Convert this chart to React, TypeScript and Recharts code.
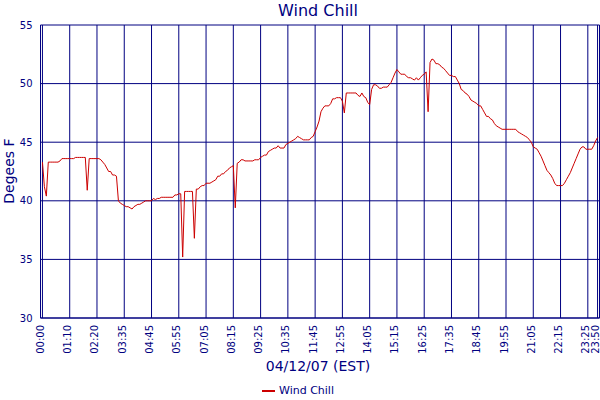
import React from 'react';
import { LineChart, Line, XAxis, YAxis, CartesianGrid, ReferenceLine, Legend } from 'recharts';

const NAVY = '#000080';
const RED = '#cc0000';
const FONT = '"DejaVu Sans", Verdana, sans-serif';

const tickLabels = ['00:00','01:10','02:20','03:35','04:45','05:55','07:05','08:15','09:25','10:35','11:45','12:55','14:05','15:15','16:25','17:35','18:45','19:55','21:05','22:15','23:25','23:50'];
const tickIndex = [0,14,28,42,56,70,84,98,112,126,140,154,168,182,196,210,224,238,252,266,280,285];
const yTicks = [30,35,40,45,50,55];

const windChill = [
  43.3,41.2,40.4,43.3,43.3,43.3,43.3,43.3,43.3,43.4,
  43.6,43.6,43.6,43.6,43.6,43.6,43.6,43.7,43.7,43.7,
  43.7,43.7,43.7,40.9,43.6,43.6,43.6,43.6,43.6,43.6,
  43.5,43.3,43.1,42.8,42.5,42.5,42.2,42.2,42.1,40.0,
  39.8,39.7,39.6,39.5,39.5,39.4,39.3,39.5,39.6,39.7,
  39.7,39.8,39.9,40.0,40.0,40.0,40.0,40.2,40.1,40.2,
  40.2,40.3,40.3,40.3,40.3,40.3,40.3,40.3,40.5,40.5,
  40.6,40.6,35.2,40.8,40.8,40.8,40.8,40.8,36.8,41.0,
  41.0,41.2,41.3,41.3,41.5,41.5,41.5,41.6,41.7,41.8,
  42.1,42.1,42.3,42.3,42.5,42.6,42.8,42.9,43.0,39.4,
  43.2,43.3,43.5,43.5,43.4,43.4,43.4,43.4,43.4,43.5,
  43.5,43.5,43.7,43.8,43.9,43.9,44.2,44.3,44.4,44.5,
  44.5,44.7,44.5,44.5,44.5,44.8,44.9,45.0,45.1,45.2,
  45.3,45.5,45.4,45.3,45.2,45.2,45.2,45.2,45.4,45.5,
  45.9,46.3,46.8,47.6,47.9,48.1,48.1,48.1,48.3,48.7,
  48.7,48.8,48.8,48.8,48.5,47.5,49.2,49.2,49.2,49.2,
  49.2,49.2,49.0,48.9,49.2,48.9,48.8,48.4,48.2,49.5,
  49.9,49.9,49.8,49.6,49.6,49.7,49.7,49.7,49.9,50.1,
  50.5,50.9,51.2,51.0,50.8,50.8,50.8,50.6,50.5,50.5,
  50.4,50.3,50.5,50.3,50.5,50.7,50.8,51.0,47.6,51.8,
  52.1,52.0,51.7,51.7,51.6,51.4,51.3,51.1,50.9,50.7,
  50.7,50.6,50.6,50.3,50.0,49.5,49.4,49.2,49.1,48.9,
  48.6,48.5,48.4,48.3,48.1,48.1,47.8,47.5,47.2,47.2,
  47.0,46.9,46.6,46.4,46.3,46.2,46.1,46.1,46.1,46.1,
  46.1,46.1,46.1,46.1,45.9,45.8,45.7,45.6,45.5,45.4,
  45.2,45.0,44.6,44.5,44.4,44.1,43.8,43.4,43.0,42.6,
  42.4,42.2,41.9,41.5,41.3,41.3,41.3,41.3,41.5,41.8,
  42.1,42.4,42.8,43.2,43.6,44.0,44.4,44.6,44.6,44.4,
  44.4,44.4,44.4,44.7,45.1,45.4
];

const data = windChill.map((v, i) => ({ i, windChill: v }));

const XTick = (props: any) => {
  const { x, y, payload } = props;
  const idx = tickIndex.indexOf(payload.value);
  const label = idx >= 0 ? tickLabels[idx] : '';
  return (
    <g transform={`translate(${x + 1.5},${y - 1})`}>
      <text transform="rotate(-90)" textAnchor="end" fill={NAVY} fontSize={10} fontFamily={FONT}>
        {label}
      </text>
    </g>
  );
};

const LegendContent = () => (
  <div style={{ display: 'flex', alignItems: 'center', fontFamily: FONT, fontSize: 11, color: NAVY, whiteSpace: 'nowrap' }}>
    <svg width={14} height={4} style={{ marginRight: 3 }}>
      <line x1={0} y1={2} x2={13} y2={2} stroke={RED} strokeWidth={2} />
    </svg>
    <span>Wind Chill</span>
  </div>
);

export default function App() {
  return (
    <div style={{ position: 'absolute', left: 0, top: 0, width: 600, height: 400, background: '#fff' }}>
      <LineChart width={600} height={400} data={data} margin={{ top: 25, right: 0.5, bottom: 0, left: 0 }}>
        <CartesianGrid stroke={NAVY} strokeWidth={1} />
        <XAxis
          type="number"
          dataKey="i"
          domain={[-1, 286]}
          ticks={tickIndex}
          interval={0}
          height={82}
          axisLine={{ stroke: NAVY }}
          tickLine={false}
          tick={<XTick />}
        />
        <YAxis
          type="number"
          domain={[30, 55]}
          ticks={yTicks}
          width={40.5}
          axisLine={{ stroke: NAVY }}
          tickLine={false}
          tick={{ fill: NAVY, fontSize: 10, fontFamily: FONT }}
        />
        <ReferenceLine x={286} stroke={NAVY} />
        <Line
          type="linear"
          dataKey="windChill"
          name="Wind Chill"
          stroke={RED}
          strokeWidth={1}
          dot={false}
          isAnimationActive={false}
        />
        <Legend
          layout="horizontal"
          verticalAlign="middle"
          align="center"
          wrapperStyle={{ top: 384, left: 262, width: 'auto' }}
          content={<LegendContent />}
        />
      </LineChart>
      <svg width={600} height={400} style={{ position: 'absolute', left: 0, top: 0, pointerEvents: 'none' }}>
        <text x={318} y={16} textAnchor="middle" fill={NAVY} fontSize={16} fontFamily={FONT}>Wind Chill</text>
        <text transform="translate(14,171) rotate(-90)" textAnchor="middle" fill={NAVY} fontSize={14} fontFamily={FONT}>Degees F</text>
        <text x={318} y={371} textAnchor="middle" fill={NAVY} fontSize={14} fontFamily={FONT}>04/12/07 (EST)</text>
      </svg>
    </div>
  );
}
